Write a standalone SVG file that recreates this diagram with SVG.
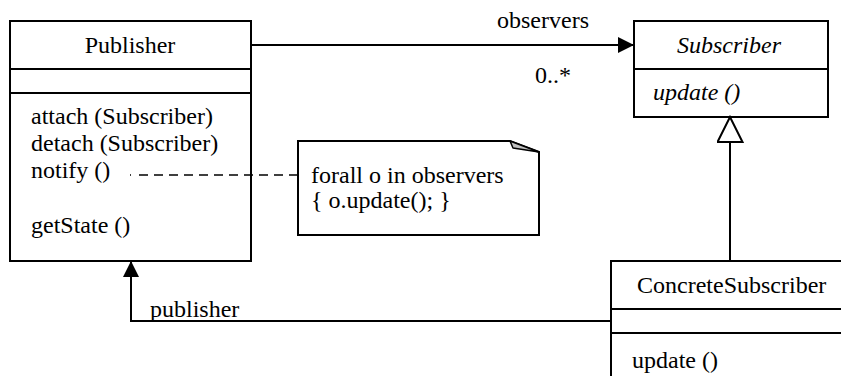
<svg xmlns="http://www.w3.org/2000/svg" width="841" height="376" viewBox="0 0 841 376">
<style>
.box{fill:#fff;stroke:#000;stroke-width:2}
.ln{fill:none;stroke:#000;stroke-width:2}
text{font-family:'Liberation Serif','Times New Roman','DejaVu Serif',serif;font-size:24px;fill:#000}
.it{font-style:italic}
.mid{text-anchor:middle}
</style>
<defs>
<marker id="filled" markerUnits="userSpaceOnUse" markerWidth="17" markerHeight="16" refX="16" refY="8" orient="auto">
<path d="M0,0 L16,8 L0,16 Z" fill="#000"/>
</marker>
<marker id="hollow" markerUnits="userSpaceOnUse" markerWidth="28" markerHeight="28" refX="26" refY="13.5" orient="auto">
<path d="M1,1 L26,13.5 L1,26 Z" fill="#fff" stroke="#000" stroke-width="2"/>
</marker>
</defs>
<rect width="841" height="376" fill="#fff"/>
<g id="publisher">
<rect class="box" x="10" y="21" width="241" height="240"/>
<line class="ln" x1="10" y1="69" x2="251" y2="69"/>
<line class="ln" x1="10" y1="93" x2="251" y2="93"/>
<text x="130" y="53" class="mid" font-family="Liberation Serif, serif">Publisher</text>
<text x="31" y="124" font-family="Liberation Serif, serif">attach (Subscriber)</text>
<text x="31" y="151" font-family="Liberation Serif, serif">detach (Subscriber)</text>
<text x="31" y="178" font-family="Liberation Serif, serif">notify ()</text>
<text x="31" y="233" font-family="Liberation Serif, serif">getState ()</text>
</g>
<g id="subscriber">
<rect class="box" x="634" y="21" width="194" height="96"/>
<line class="ln" x1="634" y1="69" x2="828" y2="69"/>
<text x="729" y="53" class="mid it" font-family="Liberation Serif, serif">Subscriber</text>
<text x="653" y="100" class="it" font-family="Liberation Serif, serif">update ()</text>
</g>
<g id="note">
<path class="box" d="M298,141 L510,141 L539,152 L539,235 L298,235 Z"/>
<path d="M510,141 L513,148 L539,152 Z" fill="#c0c0c0" stroke="#000" stroke-width="1.5" stroke-linejoin="round"/>
<text x="311" y="183" font-family="Liberation Serif, serif">forall o in observers</text>
<text x="311" y="208" font-family="Liberation Serif, serif">{ o.update(); }</text>
</g>
<g id="concrete">
<rect class="box" x="611" y="261" width="240" height="130"/>
<line class="ln" x1="611" y1="309" x2="841" y2="309"/>
<line class="ln" x1="611" y1="333" x2="841" y2="333"/>
<text x="637" y="293" font-family="Liberation Serif, serif">ConcreteSubscriber</text>
<text x="632" y="368" font-family="Liberation Serif, serif">update ()</text>
</g>
<g id="connectors">
<line class="ln" x1="251" y1="45" x2="634" y2="45" marker-end="url(#filled)"/>
<text x="543" y="28" class="mid" font-family="Liberation Serif, serif">observers</text>
<text x="535" y="83" font-family="Liberation Serif, serif">0..*</text>
<line class="ln" x1="730" y1="261" x2="730" y2="117" marker-end="url(#hollow)"/>
<polyline class="ln" points="611,321 131,321 131,261" marker-end="url(#filled)"/>
<text x="150" y="317" font-family="Liberation Serif, serif">publisher</text>
<line x1="130" y1="175" x2="298" y2="175" stroke="#000" stroke-width="1.5" stroke-dasharray="1,8,9,6,9,6,9,6,9,6,9,6,9,6,9,6,9,6,9,6,9,6,9,6"/>
</g>
</svg>
